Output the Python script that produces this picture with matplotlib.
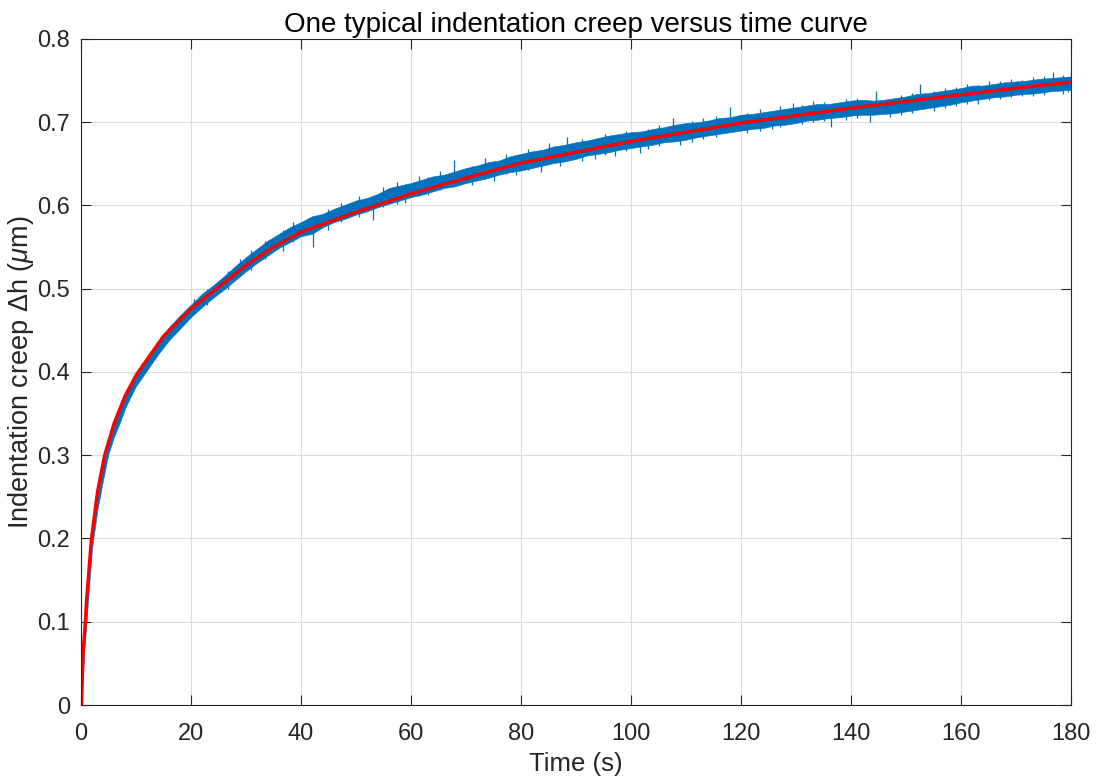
import numpy as np
import matplotlib
matplotlib.use('Agg')
from matplotlib import pyplot as plt

plt.rcParams['font.family'] = ['Liberation Sans', 'DejaVu Sans']
plt.rcParams['mathtext.fontset'] = 'custom'
plt.rcParams['mathtext.rm'] = 'Liberation Sans'
plt.rcParams['mathtext.it'] = 'Liberation Sans:italic'

# measured creep, read as lower / upper edge of the noisy band
t_meas = [0, 0.3, 0.6, 1, 1.5, 2, 3, 4, 5, 6, 7, 8, 9, 10,
          12, 14, 16, 18, 20, 22, 24, 26, 28, 30, 32, 34, 36, 38, 40,
          42, 44, 46, 48, 50, 52, 54, 56, 58, 60, 62, 64, 66, 68, 70,
          72, 74, 76, 78, 80, 82, 84, 86, 88, 90, 92, 94, 96, 98, 100,
          102, 104, 106, 108, 110, 112, 114, 116, 118, 120, 122, 124, 126, 128, 130,
          132, 134, 136, 138, 140, 142, 144, 146, 148, 150, 152, 154, 156, 158, 160,
          162, 164, 166, 168, 170, 172, 174, 176, 178, 180]
h_low = [0.000, 0.030, 0.065, 0.100, 0.145, 0.188, 0.235, 0.270, 0.302, 0.322, 0.338, 0.356, 0.370, 0.383,
         0.402, 0.421, 0.438, 0.452, 0.466, 0.478, 0.489, 0.499, 0.510, 0.521, 0.531, 0.540, 0.549, 0.556, 0.563,
         0.566, 0.574, 0.580, 0.584, 0.589, 0.593, 0.598, 0.602, 0.606, 0.610, 0.613, 0.617, 0.621, 0.623, 0.627,
         0.630, 0.633, 0.637, 0.640, 0.642, 0.645, 0.648, 0.651, 0.653, 0.656, 0.660, 0.662, 0.664, 0.667, 0.669,
         0.671, 0.673, 0.676, 0.677, 0.679, 0.682, 0.684, 0.686, 0.688, 0.690, 0.692, 0.693, 0.696, 0.697, 0.699,
         0.702, 0.703, 0.705, 0.706, 0.708, 0.709, 0.709, 0.710, 0.711, 0.713, 0.715, 0.717, 0.719, 0.721, 0.724,
         0.726, 0.728, 0.730, 0.731, 0.733, 0.734, 0.735, 0.737, 0.738, 0.739]
h_high = [0.005, 0.068, 0.085, 0.122, 0.165, 0.205, 0.252, 0.288, 0.318, 0.338, 0.356, 0.372, 0.386, 0.397,
          0.418, 0.436, 0.454, 0.468, 0.481, 0.494, 0.504, 0.515, 0.527, 0.538, 0.548, 0.558, 0.566, 0.574, 0.580,
          0.587, 0.590, 0.596, 0.601, 0.606, 0.609, 0.614, 0.621, 0.624, 0.627, 0.631, 0.635, 0.637, 0.641, 0.645,
          0.648, 0.652, 0.654, 0.659, 0.662, 0.665, 0.667, 0.671, 0.673, 0.676, 0.678, 0.681, 0.684, 0.686, 0.688,
          0.689, 0.692, 0.694, 0.697, 0.699, 0.700, 0.702, 0.705, 0.706, 0.709, 0.710, 0.712, 0.714, 0.716, 0.718,
          0.720, 0.722, 0.722, 0.724, 0.726, 0.727, 0.726, 0.727, 0.729, 0.731, 0.734, 0.735, 0.737, 0.739, 0.741,
          0.744, 0.744, 0.746, 0.748, 0.749, 0.750, 0.752, 0.753, 0.754, 0.755]

# single spikes sticking out of the band
spike_t = [20.5, 23.0, 26.8, 29.0, 31.0, 33.5, 36.8, 38.5, 42.2, 45.0, 47.3, 50.5, 53.1, 55.0,
           57.5, 59.0, 61.5, 63.0, 65.2, 67.8, 71.0, 73.5, 75.0, 77.2, 79.0, 81.3, 83.6, 85.0,
           87.0, 88.3, 91.0, 93.4, 95.2, 97.0, 99.0, 101.6, 103.0, 105.0, 107.7, 108.9, 111.0,
           113.0, 115.4, 118.0, 121.0, 123.5, 125.6, 127.0, 129.5, 131.0, 133.0, 135.0, 136.4,
           139.0, 141.0, 143.5, 144.5, 147.0, 149.0, 151.0, 152.5, 155.0, 157.0, 159.0, 161.0,
           163.0, 165.0, 167.0, 169.0, 171.0, 173.0, 175.0, 176.7, 178.5, 179.5]
spike_lo = [0.470, 0.480, 0.500, 0.515, 0.522, 0.536, 0.545, 0.556, 0.550, 0.570, 0.580, 0.586, 0.583, 0.598,
            0.602, 0.603, 0.611, 0.612, 0.618, 0.630, 0.624, 0.632, 0.630, 0.638, 0.637, 0.643, 0.640, 0.650,
            0.648, 0.660, 0.654, 0.656, 0.661, 0.660, 0.666, 0.663, 0.668, 0.672, 0.684, 0.673, 0.676,
            0.680, 0.682, 0.695, 0.687, 0.690, 0.692, 0.694, 0.705, 0.698, 0.700, 0.702, 0.694,
            0.703, 0.705, 0.700, 0.715, 0.706, 0.709, 0.711, 0.725, 0.713, 0.717, 0.719, 0.722,
            0.722, 0.727, 0.728, 0.730, 0.731, 0.732, 0.733, 0.742, 0.734, 0.736]
spike_hi = [0.488, 0.500, 0.521, 0.536, 0.546, 0.557, 0.570, 0.580, 0.575, 0.596, 0.603, 0.611, 0.605, 0.622,
            0.628, 0.626, 0.636, 0.634, 0.642, 0.655, 0.647, 0.657, 0.653, 0.662, 0.660, 0.668, 0.664, 0.675,
            0.670, 0.682, 0.680, 0.678, 0.686, 0.683, 0.690, 0.685, 0.692, 0.697, 0.705, 0.690, 0.701,
            0.705, 0.707, 0.718, 0.711, 0.716, 0.713, 0.719, 0.723, 0.721, 0.725, 0.724, 0.715,
            0.728, 0.729, 0.720, 0.737, 0.728, 0.733, 0.735, 0.746, 0.737, 0.741, 0.742, 0.746,
            0.745, 0.750, 0.749, 0.752, 0.751, 0.754, 0.756, 0.760, 0.757, 0.752]

# fitted curve
t_fit = [0.1, 0.4, 0.8, 1, 1.9, 3, 4.3, 6, 8, 10, 12, 15, 20, 25, 30, 35, 40, 50, 60, 70,
         80, 90, 100, 110, 120, 130, 140, 150, 160, 170, 180]
h_fit = [0.0, 0.066, 0.100, 0.125, 0.200, 0.256, 0.300, 0.338, 0.371, 0.396, 0.415, 0.443, 0.476,
         0.502, 0.528, 0.550, 0.568, 0.592, 0.614, 0.633, 0.651, 0.664, 0.677, 0.688, 0.699, 0.708,
         0.717, 0.725, 0.733, 0.741, 0.748]

blue = '#0072BD'
txt = '#262626'

fig = plt.figure(figsize=(10.96, 7.81), dpi=100)
ax = fig.add_axes([0.0739, 0.0973, 0.9033, 0.8528])

ax.fill_between(t_meas, h_low, h_high, color=blue, lw=0.4, edgecolor=blue)
ax.vlines(spike_t, spike_lo, spike_hi, color=blue, lw=0.9)
ax.plot(t_fit, h_fit, color='r', lw=2.4)

ax.set_xlim(0, 180)
ax.set_ylim(0, 0.8)
ax.set_xticks(np.arange(0, 181, 20))
ax.set_yticks(np.arange(0, 0.81, 0.1))
ax.set_yticklabels(['0', '0.1', '0.2', '0.3', '0.4', '0.5', '0.6', '0.7', '0.8'])
ax.grid(True, color='#dcdcdc', lw=0.8)
ax.set_axisbelow(True)
ax.tick_params(direction='in', top=True, right=True, length=7, width=0.8,
               colors=txt, labelsize=17)
ax.tick_params(axis='x', pad=13)
ax.tick_params(axis='y', pad=8)
for s in ax.spines.values():
    s.set_color('#262626')
    s.set_linewidth(0.8)

ax.set_title('One typical indentation creep versus time curve', fontsize=20, color='black', pad=5)
ax.set_xlabel('Time (s)', fontsize=18.5, color=txt, labelpad=5)
ax.set_ylabel(r'Indentation creep $\Delta$h ($\mathit{\mu}$m)', fontsize=19.5, color=txt, labelpad=1)

plt.savefig('out.png', dpi=100)
